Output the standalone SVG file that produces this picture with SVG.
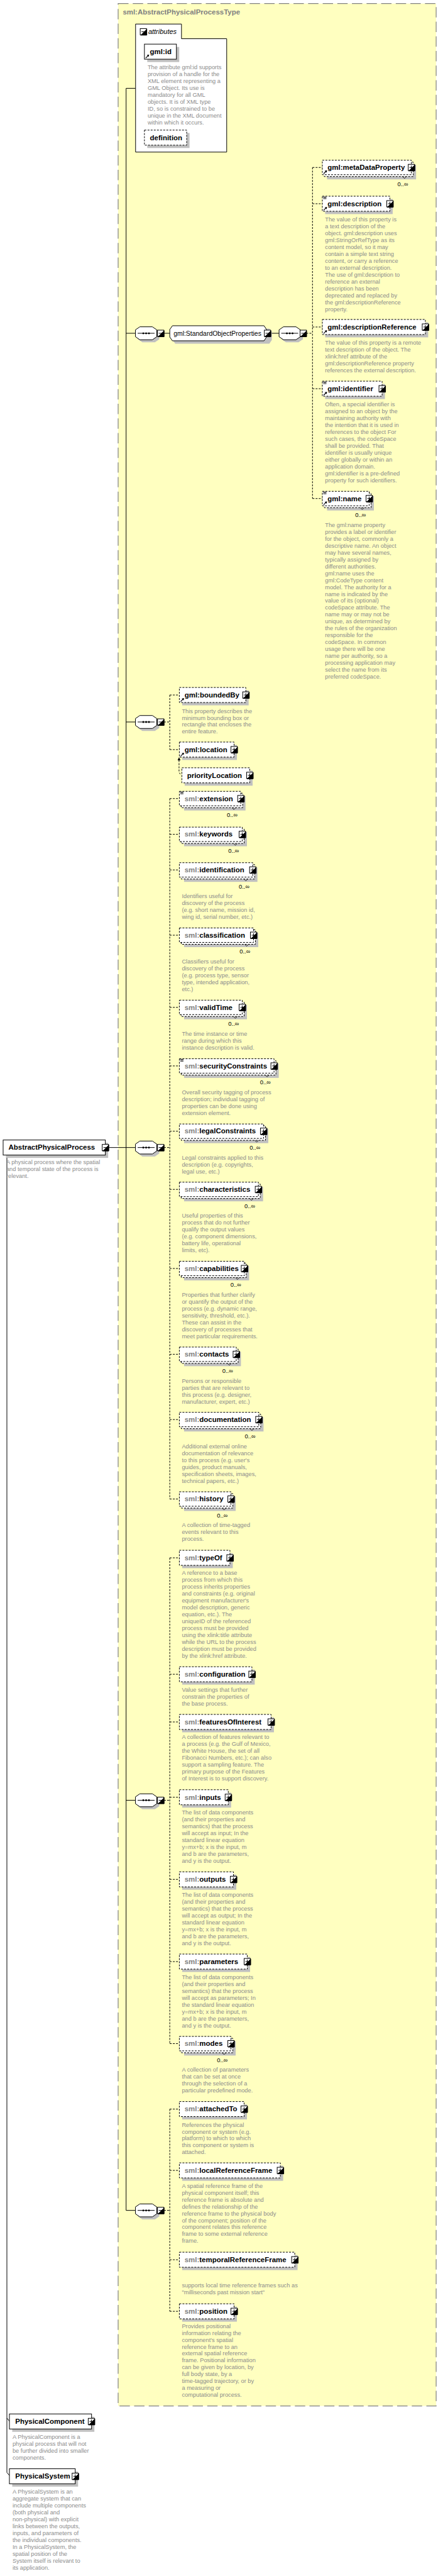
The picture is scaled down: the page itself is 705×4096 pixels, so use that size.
<svg xmlns="http://www.w3.org/2000/svg" width="705" height="4096" viewBox="0 0 705 4096">
<style>
.tb{fill:#FFFFC0;stroke:#808080;stroke-width:1.2;stroke-dasharray:16.5 6.8}
.sh{fill:#C0C0C0}
.bx{fill:#fff;stroke:#000;stroke-width:1}
.op{fill:#fff;stroke:#000;stroke-width:1;stroke-dasharray:3 2}
.nm{font-family:'Liberation Sans',Arial,sans-serif;font-size:11.5px;font-weight:bold;fill:#000}
.pf{fill:#808080}
.ds{font-family:'Liberation Sans',Arial,sans-serif;font-size:9.3px;fill:#8c8c8c}
.oc{font-family:'Liberation Sans',Arial,sans-serif;font-size:9.5px;fill:#000;text-anchor:end}
.ln{stroke:#000;stroke-width:1;fill:none}
.nt{stroke:#000;stroke-width:0.8;fill:none}
.dl{stroke:#000;stroke-width:1;fill:none;stroke-dasharray:3 2}
.tt{font-family:'Liberation Sans',Arial,sans-serif;font-size:11px;font-weight:bold;fill:#808080}
.gp{font-family:'Liberation Sans',Arial,sans-serif;font-size:11px;fill:#000}
.it{font-family:'Liberation Sans',Arial,sans-serif;font-size:11px;font-style:italic;fill:#000}
</style>
<defs>
<g id="plus"><rect x="-5" y="-5" width="10" height="10" fill="#fff" stroke="#000"/><path d="M-3,0H3M0,-3V3" stroke="#000"/><path d="M-4.5,5.5H5.5V-4.5" stroke="#000"/></g>
<g id="minus"><rect x="-5" y="-5" width="10" height="10" fill="#fff" stroke="#000"/><path d="M-3,0H3" stroke="#000"/><path d="M-4.5,5.5H5.5V-4.5" stroke="#000"/></g>
<g id="ref"><path d="M0,0L4,-4" stroke="#000" stroke-width="1.2"/><path d="M5.5,-5.5L1.8,-4.8L4.8,-1.8Z" fill="#000"/></g>
<g id="mix"><path d="M0,0.5H5M0,2H5M0,3.5H5" stroke="#000" stroke-width="0.8"/></g>
<g id="seq"><polygon points="4,-1.5 11,-6.3 31,-6.3 38,-1.5 38,9.5 31,14.3 11,14.3 4,9.5" fill="#C0C0C0"/><polygon points="0,-5.5 7,-10.3 27,-10.3 34,-5.5 34,5.5 27,10.3 7,10.3 0,5.5" fill="#fff" stroke="#000"/><path d="M3.5,0H30.5" stroke="#000"/><circle cx="12.5" cy="0" r="1.5"/><circle cx="17" cy="0" r="1.5"/><circle cx="21.5" cy="0" r="1.5"/></g>
</defs>
<rect x="0" y="0" width="705" height="4096" fill="#fff"/>
<g transform="scale(0.998)">

<g id="type-box">
<rect class="tb" x="188.4" y="5.7" width="507.1" height="3827.6"/>
<text class="tt" x="195.8" y="22.7" textLength="187" lengthAdjust="spacingAndGlyphs">sml:AbstractPhysicalProcessType</text>
</g>

<g id="connectors">
<path class="ln" d="M201.1,140.7V3521.7M201.1,140.7H216.2"/>
<path class="ln" d="M201.1,531H216M261.5,531H270.7M431.5,531H445"/>
<path class="dl" d="M488.5,531H498.3M498.3,266.8V794.3M498.3,266.8H514M498.3,324.6H514M498.3,521H514M498.3,619.3H514M498.3,794.3H514"/>
<path class="ln" d="M201.1,1150.3H216"/>
<path class="dl" d="M261.5,1150.3H270.7M270.7,1107.3V1194.3M270.7,1107.3H286M270.7,1194.3H286"/>
<path class="dl" d="M285.5,1211V1229Q285.5,1233.5 290,1233.5"/>
<path d="M285.5,1206.5L283.2,1211.5L287.8,1211.5Z" fill="#000"/>
<path class="ln" d="M173.5,1828.3H216"/>
<path class="dl" d="M261.5,1828.3H270.7M270.7,1272.3V2388.3M270.7,1272.3H286M270.7,1329.3H286M270.7,1386H286M270.7,1490H286M270.7,1605H286M270.7,1698.3H286M270.7,1802.3H286M270.7,1895H286M270.7,2021H286M270.7,2157.7H286M270.7,2261.7H286M270.7,2388.3H286"/>
<path class="ln" d="M201.1,2868.3H216"/>
<path class="dl" d="M261.5,2868.3H270.7M270.7,2482V3256M270.7,2482H286M270.7,2667.5H286M270.7,2743.5H286M270.7,2863.5H286M270.7,2994.3H286M270.7,3125.3H286M270.7,3256H286"/>
<path class="ln" d="M201.1,3521.7H216"/>
<path class="dl" d="M261.5,3521.7H270.7M270.7,3360.3V3682.5M270.7,3360.3H286M270.7,3458H286M270.7,3600.3H286M270.7,3682.5H286"/>
<path class="ln" d="M11,1840.3V3939.3M11,3852.7L15,3857.5M11,3939.3L15,3944"/>
</g>

<g id="seq1"><use href="#seq" x="216" y="531"/><use href="#minus" x="256.2" y="531"/></g>
<g id="seq1b"><use href="#seq" x="445" y="531"/><use href="#minus" x="483.5" y="531"/></g>
<g id="seq2"><use href="#seq" x="216" y="1150.3"/><use href="#minus" x="256.2" y="1150.3"/></g>
<g id="seq3"><use href="#seq" x="216" y="1828.3"/><use href="#minus" x="256.2" y="1828.3"/></g>
<g id="seq4"><use href="#seq" x="216" y="2868.3"/><use href="#minus" x="256.2" y="2868.3"/></g>
<g id="seq5"><use href="#seq" x="216" y="3521.7"/><use href="#minus" x="256.2" y="3521.7"/></g>

<g id="attributes">
<path d="M216.2,38.3H289.4V61.7H361.5V242.3H216.2Z" fill="#fff" stroke="#000"/>
<use href="#minus" x="228.6" y="50.5"/>
<text class="it" x="236.4" y="54">attributes</text>
</g>
<g id="gml-id">
<rect class="sh" x="234.8" y="74.8" width="51" height="24"/>
<rect class="bx" x="230.3" y="70.3" width="51" height="24"/>
<text class="nm" x="239" y="86.2">gml:id</text>
<use href="#ref" x="232.3" y="92.5"/>
<text class="ds" x="235.4" y="110"><tspan x="235.4">The attribute gml:id supports</tspan><tspan x="235.4" dy="11">provision of a handle for the</tspan><tspan x="235.4" dy="11">XML element representing a</tspan><tspan x="235.4" dy="11">GML Object. Its use is</tspan><tspan x="235.4" dy="11">mandatory for all GML</tspan><tspan x="235.4" dy="11">objects. It is of XML type</tspan><tspan x="235.4" dy="11">ID, so is constrained to be</tspan><tspan x="235.4" dy="11">unique in the XML document</tspan><tspan x="235.4" dy="11">within which it occurs.</tspan></text>
</g>
<g id="definition">
<rect class="sh" x="234.8" y="211.8" width="67.4" height="24"/>
<rect class="op" x="230.3" y="207.3" width="67.4" height="24"/>
<text class="nm" x="239" y="223.1">definition</text>
</g>

<g id="StandardObjectProperties">
<polygon points="275.2,529.5 279.5,523.5 429.5,523.5 433.5,529.5 433.5,541.5 429.5,547.5 279.5,547.5 275.2,541.5" fill="#C0C0C0"/>
<polygon points="270.7,525 275,519 421,519 425,525 425,537 421,543 275,543 270.7,537" fill="#fff" stroke="#000"/>
<text class="gp" x="276.7" y="534.8" textLength="140" lengthAdjust="spacingAndGlyphs">gml:StandardObjectProperties</text>
<use href="#minus" x="426.5" y="531"/>
</g>

<g id="gml-metaDataProperty">
<rect class="sh" x="521.5" y="262.8" width="142" height="23"/>
<rect class="op" x="517" y="258.3" width="142" height="23"/>
<rect class="op" x="514" y="255.3" width="142" height="23"/>
<path class="nt" d="M642,281.3l3,3l3,-3"/>
<text class="nm" x="522.3" y="270.6">gml:metaDataProperty</text>
<use href="#ref" x="516" y="276.8"/>
<use href="#plus" x="656" y="266.8"/>
<text class="oc" x="651" y="296.3">0..∞</text>
</g>
<g id="gml-description">
<rect class="sh" x="518.5" y="317.1" width="107.7" height="24"/>
<rect class="op" x="514" y="312.6" width="107.7" height="24"/>
<use href="#mix" x="515.5" y="313.1"/>
<text class="nm" x="522.3" y="328.4">gml:description</text>
<use href="#ref" x="516" y="335.1"/>
<use href="#plus" x="621.7" y="324.6"/>
<text class="ds" x="518.3" y="352.9"><tspan x="518.3">The value of this property is</tspan><tspan x="518.3" dy="11">a text description of the</tspan><tspan x="518.3" dy="11">object. gml:description uses</tspan><tspan x="518.3" dy="11">gml:StringOrRefType as its</tspan><tspan x="518.3" dy="11">content model, so it may</tspan><tspan x="518.3" dy="11">contain a simple text string</tspan><tspan x="518.3" dy="11">content, or carry a reference</tspan><tspan x="518.3" dy="11">to an external description.</tspan><tspan x="518.3" dy="11">The use of gml:description to</tspan><tspan x="518.3" dy="11">reference an external</tspan><tspan x="518.3" dy="11">description has been</tspan><tspan x="518.3" dy="11">deprecated and replaced by</tspan><tspan x="518.3" dy="11">the gml:descriptionReference</tspan><tspan x="518.3" dy="11">property.</tspan></text>
</g>
<g id="gml-descriptionReference">
<rect class="sh" x="518.5" y="513.5" width="164.3" height="24"/>
<rect class="op" x="514" y="509" width="164.3" height="24"/>
<text class="nm" x="522.3" y="524.8">gml:descriptionReference</text>
<use href="#ref" x="516" y="531.5"/>
<use href="#plus" x="678.3" y="521"/>
<text class="ds" x="518.3" y="549.3"><tspan x="518.3">The value of this property is a remote</tspan><tspan x="518.3" dy="11">text description of the object. The</tspan><tspan x="518.3" dy="11">xlink:href attribute of the</tspan><tspan x="518.3" dy="11">gml:descriptionReference property</tspan><tspan x="518.3" dy="11">references the external description.</tspan></text>
</g>
<g id="gml-identifier">
<rect class="sh" x="518.5" y="611.8" width="95.3" height="24"/>
<rect class="op" x="514" y="607.3" width="95.3" height="24"/>
<use href="#mix" x="515.5" y="607.8"/>
<text class="nm" x="522.3" y="623.1">gml:identifier</text>
<use href="#ref" x="516" y="629.8"/>
<use href="#plus" x="609.3" y="619.3"/>
<text class="ds" x="518.3" y="647.6"><tspan x="518.3">Often, a special identifier is</tspan><tspan x="518.3" dy="11">assigned to an object by the</tspan><tspan x="518.3" dy="11">maintaining authority with</tspan><tspan x="518.3" dy="11">the intention that it is used in</tspan><tspan x="518.3" dy="11">references to the object For</tspan><tspan x="518.3" dy="11">such cases, the codeSpace</tspan><tspan x="518.3" dy="11">shall be provided. That</tspan><tspan x="518.3" dy="11">identifier is usually unique</tspan><tspan x="518.3" dy="11">either globally or within an</tspan><tspan x="518.3" dy="11">application domain.</tspan><tspan x="518.3" dy="11">gml:identifier is a pre-defined</tspan><tspan x="518.3" dy="11">property for such identifiers.</tspan></text>
</g>
<g id="gml-name">
<rect class="sh" x="521.5" y="790.3" width="74.7" height="23"/>
<rect class="op" x="517" y="785.8" width="74.7" height="23"/>
<rect class="op" x="514" y="782.8" width="74.7" height="23"/>
<path class="nt" d="M574.7,808.8l3,3l3,-3"/>
<use href="#mix" x="515.5" y="783.3"/>
<text class="nm" x="522.3" y="798.1">gml:name</text>
<use href="#ref" x="516" y="804.3"/>
<use href="#plus" x="588.7" y="794.3"/>
<text class="oc" x="583.7" y="823.8">0..∞</text>
<text class="ds" x="518.3" y="839.4"><tspan x="518.3">The gml:name property</tspan><tspan x="518.3" dy="11">provides a label or identifier</tspan><tspan x="518.3" dy="11">for the object, commonly a</tspan><tspan x="518.3" dy="11">descriptive name. An object</tspan><tspan x="518.3" dy="11">may have several names,</tspan><tspan x="518.3" dy="11">typically assigned by</tspan><tspan x="518.3" dy="11">different authorities.</tspan><tspan x="518.3" dy="11">gml:name uses the</tspan><tspan x="518.3" dy="11">gml:CodeType content</tspan><tspan x="518.3" dy="11">model.  The authority for a</tspan><tspan x="518.3" dy="11">name is indicated by the</tspan><tspan x="518.3" dy="11">value of its (optional)</tspan><tspan x="518.3" dy="11">codeSpace attribute.  The</tspan><tspan x="518.3" dy="11">name may or may not be</tspan><tspan x="518.3" dy="11">unique, as determined by</tspan><tspan x="518.3" dy="11">the rules of the organization</tspan><tspan x="518.3" dy="11">responsible for the</tspan><tspan x="518.3" dy="11">codeSpace.  In common</tspan><tspan x="518.3" dy="11">usage there will be one</tspan><tspan x="518.3" dy="11">name per authority, so a</tspan><tspan x="518.3" dy="11">processing application may</tspan><tspan x="518.3" dy="11">select the name from its</tspan><tspan x="518.3" dy="11">preferred codeSpace.</tspan></text>
</g>

<g id="gml-boundedBy">
<rect class="sh" x="290.5" y="1099.8" width="106" height="24"/>
<rect class="op" x="286" y="1095.3" width="106" height="24"/>
<text class="nm" x="294.3" y="1111.1">gml:boundedBy</text>
<use href="#ref" x="288" y="1117.8"/>
<use href="#plus" x="392" y="1107.3"/>
<text class="ds" x="290" y="1135.8"><tspan x="290">This property describes the</tspan><tspan x="290" dy="11">minimum bounding box or</tspan><tspan x="290" dy="11">rectangle that encloses the</tspan><tspan x="290" dy="11">entire feature.</tspan></text>
</g>
<g id="gml-location">
<rect class="sh" x="290.5" y="1186.8" width="87.3" height="24"/>
<rect class="op" x="286" y="1182.3" width="87.3" height="24"/>
<text class="nm" x="294.3" y="1198.1">gml:location</text>
<use href="#ref" x="288" y="1204.8"/>
<use href="#plus" x="373.3" y="1194.3"/>
</g>
<g id="priorityLocation">
<rect class="sh" x="294.5" y="1227.8" width="108.3" height="24"/>
<rect class="op" x="290" y="1223.3" width="108.3" height="24"/>
<text class="nm" x="298.3" y="1239.1">priorityLocation</text>
<use href="#plus" x="398.3" y="1235.3"/>
</g>

<g id="sml-extension">
<rect class="sh" x="293.5" y="1268.3" width="98" height="23"/>
<rect class="op" x="289" y="1263.8" width="98" height="23"/>
<rect class="op" x="286" y="1260.8" width="98" height="23"/>
<path class="nt" d="M370,1286.8l3,3l3,-3"/>
<use href="#mix" x="287.5" y="1261.3"/>
<text class="nm" x="294.3" y="1276.1"><tspan class="pf">sml:</tspan>extension</text>
<use href="#plus" x="384" y="1272.3"/>
<text class="oc" x="379" y="1301.8">0..∞</text>
</g>
<g id="sml-keywords">
<rect class="sh" x="293.5" y="1325.3" width="100.3" height="23"/>
<rect class="op" x="289" y="1320.8" width="100.3" height="23"/>
<rect class="op" x="286" y="1317.8" width="100.3" height="23"/>
<path class="nt" d="M372.3,1343.8l3,3l3,-3"/>
<text class="nm" x="294.3" y="1333.1"><tspan class="pf">sml:</tspan>keywords</text>
<use href="#plus" x="386.3" y="1329.3"/>
<text class="oc" x="381.3" y="1358.8">0..∞</text>
</g>
<g id="sml-identification">
<rect class="sh" x="293.5" y="1382" width="117" height="23"/>
<rect class="op" x="289" y="1377.5" width="117" height="23"/>
<rect class="op" x="286" y="1374.5" width="117" height="23"/>
<path class="nt" d="M389,1400.5l3,3l3,-3"/>
<text class="nm" x="294.3" y="1389.8"><tspan class="pf">sml:</tspan>identification</text>
<use href="#plus" x="403" y="1386"/>
<text class="oc" x="398" y="1415.5">0..∞</text>
<text class="ds" x="290" y="1430.6"><tspan x="290">Identifiers useful for</tspan><tspan x="290" dy="11">discovery of the process</tspan><tspan x="290" dy="11">(e.g. short name, mission id,</tspan><tspan x="290" dy="11">wing id, serial number, etc.)</tspan></text>
</g>
<g id="sml-classification">
<rect class="sh" x="293.5" y="1486" width="118.3" height="23"/>
<rect class="op" x="289" y="1481.5" width="118.3" height="23"/>
<rect class="op" x="286" y="1478.5" width="118.3" height="23"/>
<path class="nt" d="M390.3,1504.5l3,3l3,-3"/>
<text class="nm" x="294.3" y="1493.8"><tspan class="pf">sml:</tspan>classification</text>
<use href="#plus" x="404.3" y="1490"/>
<text class="oc" x="399.3" y="1519.5">0..∞</text>
<text class="ds" x="290" y="1535"><tspan x="290">Classifiers useful for</tspan><tspan x="290" dy="11">discovery of the process</tspan><tspan x="290" dy="11">(e.g. process type, sensor</tspan><tspan x="290" dy="11">type, intended application,</tspan><tspan x="290" dy="11">etc.)</tspan></text>
</g>
<g id="sml-validTime">
<rect class="sh" x="293.5" y="1601" width="100.3" height="23"/>
<rect class="op" x="289" y="1596.5" width="100.3" height="23"/>
<rect class="op" x="286" y="1593.5" width="100.3" height="23"/>
<path class="nt" d="M372.3,1619.5l3,3l3,-3"/>
<text class="nm" x="294.3" y="1608.8"><tspan class="pf">sml:</tspan>validTime</text>
<use href="#plus" x="386.3" y="1605"/>
<text class="oc" x="381.3" y="1634.5">0..∞</text>
<text class="ds" x="290" y="1650"><tspan x="290">The time instance or time</tspan><tspan x="290" dy="11">range during which this</tspan><tspan x="290" dy="11">instance description is valid.</tspan></text>
</g>
<g id="sml-securityConstraints">
<rect class="sh" x="293.5" y="1694.3" width="151" height="23"/>
<rect class="op" x="289" y="1689.8" width="151" height="23"/>
<rect class="op" x="286" y="1686.8" width="151" height="23"/>
<path class="nt" d="M423,1712.8l3,3l3,-3"/>
<use href="#mix" x="287.5" y="1687.3"/>
<text class="nm" x="294.3" y="1702.1"><tspan class="pf">sml:</tspan>securityConstraints</text>
<use href="#plus" x="437" y="1698.3"/>
<text class="oc" x="432" y="1727.8">0..∞</text>
<text class="ds" x="290" y="1743.3"><tspan x="290">Overall security tagging of process</tspan><tspan x="290" dy="11">description; individual tagging of</tspan><tspan x="290" dy="11">properties can be done using</tspan><tspan x="290" dy="11">extension element.</tspan></text>
</g>
<g id="sml-legalConstraints">
<rect class="sh" x="293.5" y="1798.3" width="134.3" height="23"/>
<rect class="op" x="289" y="1793.8" width="134.3" height="23"/>
<rect class="op" x="286" y="1790.8" width="134.3" height="23"/>
<path class="nt" d="M406.3,1816.8l3,3l3,-3"/>
<text class="nm" x="294.3" y="1806.1"><tspan class="pf">sml:</tspan>legalConstraints</text>
<use href="#plus" x="420.3" y="1802.3"/>
<text class="oc" x="415.3" y="1831.8">0..∞</text>
<text class="ds" x="290" y="1847.3"><tspan x="290">Legal constraints applied to this</tspan><tspan x="290" dy="11">description (e.g. copyrights,</tspan><tspan x="290" dy="11">legal use, etc.)</tspan></text>
</g>
<g id="sml-characteristics">
<rect class="sh" x="293.5" y="1891" width="126" height="23"/>
<rect class="op" x="289" y="1886.5" width="126" height="23"/>
<rect class="op" x="286" y="1883.5" width="126" height="23"/>
<path class="nt" d="M398,1909.5l3,3l3,-3"/>
<text class="nm" x="294.3" y="1898.8"><tspan class="pf">sml:</tspan>characteristics</text>
<use href="#plus" x="412" y="1895"/>
<text class="oc" x="407" y="1924.5">0..∞</text>
<text class="ds" x="290" y="1940"><tspan x="290">Useful properties of this</tspan><tspan x="290" dy="11">process that do not further</tspan><tspan x="290" dy="11">qualify the output values</tspan><tspan x="290" dy="11">(e.g. component dimensions,</tspan><tspan x="290" dy="11">battery life, operational</tspan><tspan x="290" dy="11">limits, etc).</tspan></text>
</g>
<g id="sml-capabilities">
<rect class="sh" x="293.5" y="2017" width="103.7" height="23"/>
<rect class="op" x="289" y="2012.5" width="103.7" height="23"/>
<rect class="op" x="286" y="2009.5" width="103.7" height="23"/>
<path class="nt" d="M375.7,2035.5l3,3l3,-3"/>
<text class="nm" x="294.3" y="2024.8"><tspan class="pf">sml:</tspan>capabilities</text>
<use href="#plus" x="389.7" y="2021"/>
<text class="oc" x="384.7" y="2050.5">0..∞</text>
<text class="ds" x="290" y="2066"><tspan x="290">Properties that further clarify</tspan><tspan x="290" dy="11">or quantify the output of the</tspan><tspan x="290" dy="11">process (e.g. dynamic range,</tspan><tspan x="290" dy="11">sensitivity, threshold, etc.).</tspan><tspan x="290" dy="11">These can assist in the</tspan><tspan x="290" dy="11">discovery of processes that</tspan><tspan x="290" dy="11">meet particular requirements.</tspan></text>
</g>
<g id="sml-contacts">
<rect class="sh" x="293.5" y="2153.7" width="90.7" height="23"/>
<rect class="op" x="289" y="2149.2" width="90.7" height="23"/>
<rect class="op" x="286" y="2146.2" width="90.7" height="23"/>
<path class="nt" d="M362.7,2172.2l3,3l3,-3"/>
<text class="nm" x="294.3" y="2161.5"><tspan class="pf">sml:</tspan>contacts</text>
<use href="#plus" x="376.7" y="2157.7"/>
<text class="oc" x="371.7" y="2187.2">0..∞</text>
<text class="ds" x="290" y="2203.3"><tspan x="290">Persons or responsible</tspan><tspan x="290" dy="11">parties that are relevant to</tspan><tspan x="290" dy="11">this process (e.g. designer,</tspan><tspan x="290" dy="11">manufacturer, expert, etc.)</tspan></text>
</g>
<g id="sml-documentation">
<rect class="sh" x="293.5" y="2257.7" width="126.7" height="23"/>
<rect class="op" x="289" y="2253.2" width="126.7" height="23"/>
<rect class="op" x="286" y="2250.2" width="126.7" height="23"/>
<path class="nt" d="M398.7,2276.2l3,3l3,-3"/>
<text class="nm" x="294.3" y="2265.5"><tspan class="pf">sml:</tspan>documentation</text>
<use href="#plus" x="412.7" y="2261.7"/>
<text class="oc" x="407.7" y="2291.2">0..∞</text>
<text class="ds" x="290" y="2307.3"><tspan x="290">Additional external online</tspan><tspan x="290" dy="11">documentation of relevance</tspan><tspan x="290" dy="11">to this process (e.g. user's</tspan><tspan x="290" dy="11">guides, product manuals,</tspan><tspan x="290" dy="11">specification sheets, images,</tspan><tspan x="290" dy="11">technical papers, etc.)</tspan></text>
</g>
<g id="sml-history">
<rect class="sh" x="293.5" y="2384.3" width="82.3" height="23"/>
<rect class="op" x="289" y="2379.8" width="82.3" height="23"/>
<rect class="op" x="286" y="2376.8" width="82.3" height="23"/>
<path class="nt" d="M354.3,2402.8l3,3l3,-3"/>
<text class="nm" x="294.3" y="2392.1"><tspan class="pf">sml:</tspan>history</text>
<use href="#plus" x="368.3" y="2388.3"/>
<text class="oc" x="363.3" y="2417.8">0..∞</text>
<text class="ds" x="290" y="2432.6"><tspan x="290">A collection of time-tagged</tspan><tspan x="290" dy="11">events relevant to this</tspan><tspan x="290" dy="11">process.</tspan></text>
</g>

<g id="sml-typeOf">
<rect class="sh" x="290.5" y="2474.5" width="80.7" height="24"/>
<rect class="op" x="286" y="2470" width="80.7" height="24"/>
<text class="nm" x="294.3" y="2485.8"><tspan class="pf">sml:</tspan>typeOf</text>
<use href="#plus" x="366.7" y="2482"/>
<text class="ds" x="290" y="2509"><tspan x="290">A reference to a base</tspan><tspan x="290" dy="11">process from which this</tspan><tspan x="290" dy="11">process inherits properties</tspan><tspan x="290" dy="11">and constraints (e.g. original</tspan><tspan x="290" dy="11">equipment manufacturer's</tspan><tspan x="290" dy="11">model description, generic</tspan><tspan x="290" dy="11">equation, etc.). The</tspan><tspan x="290" dy="11">uniqueID of the referenced</tspan><tspan x="290" dy="11">process must be provided</tspan><tspan x="290" dy="11">using the xlink:title attribute</tspan><tspan x="290" dy="11">while the URL to the process</tspan><tspan x="290" dy="11">description must be provided</tspan><tspan x="290" dy="11">by the xlink:href attribute.</tspan></text>
</g>
<g id="sml-configuration">
<rect class="sh" x="290.5" y="2660" width="115.7" height="24"/>
<rect class="op" x="286" y="2655.5" width="115.7" height="24"/>
<text class="nm" x="294.3" y="2671.3"><tspan class="pf">sml:</tspan>configuration</text>
<use href="#plus" x="401.7" y="2667.5"/>
<text class="ds" x="290" y="2695"><tspan x="290">Value settings that further</tspan><tspan x="290" dy="11">constrain the properties of</tspan><tspan x="290" dy="11">the base process.</tspan></text>
</g>
<g id="sml-featuresOfInterest">
<rect class="sh" x="290.5" y="2736" width="146.3" height="24"/>
<rect class="op" x="286" y="2731.5" width="146.3" height="24"/>
<text class="nm" x="294.3" y="2747.3"><tspan class="pf">sml:</tspan>featuresOfInterest</text>
<use href="#plus" x="432.3" y="2743.5"/>
<text class="ds" x="290" y="2771"><tspan x="290">A collection of features relevant to</tspan><tspan x="290" dy="11">a process (e.g. the Gulf of Mexico,</tspan><tspan x="290" dy="11">the White House, the set of all</tspan><tspan x="290" dy="11">Fibonacci Numbers, etc.); can also</tspan><tspan x="290" dy="11">support a sampling feature. The</tspan><tspan x="290" dy="11">primary purpose of the Features</tspan><tspan x="290" dy="11">of Interest is to support discovery.</tspan></text>
</g>
<g id="sml-inputs">
<rect class="sh" x="290.5" y="2856" width="78" height="24"/>
<rect class="op" x="286" y="2851.5" width="78" height="24"/>
<text class="nm" x="294.3" y="2867.3"><tspan class="pf">sml:</tspan>inputs</text>
<use href="#plus" x="364" y="2863.5"/>
<text class="ds" x="290" y="2890.6"><tspan x="290">The list of data components</tspan><tspan x="290" dy="11">(and their properties and</tspan><tspan x="290" dy="11">semantics) that the process</tspan><tspan x="290" dy="11">will accept as input; In the</tspan><tspan x="290" dy="11">standard linear equation</tspan><tspan x="290" dy="11">y=mx+b; x is the input, m</tspan><tspan x="290" dy="11">and b are the parameters,</tspan><tspan x="290" dy="11">and y is the output.</tspan></text>
</g>
<g id="sml-outputs">
<rect class="sh" x="290.5" y="2986.8" width="86.3" height="24"/>
<rect class="op" x="286" y="2982.3" width="86.3" height="24"/>
<text class="nm" x="294.3" y="2998.1"><tspan class="pf">sml:</tspan>outputs</text>
<use href="#plus" x="372.3" y="2994.3"/>
<text class="ds" x="290" y="3022"><tspan x="290">The list of data components</tspan><tspan x="290" dy="11">(and their properties and</tspan><tspan x="290" dy="11">semantics) that the process</tspan><tspan x="290" dy="11">will accept as output; In the</tspan><tspan x="290" dy="11">standard linear equation</tspan><tspan x="290" dy="11">y=mx+b; x is the input, m</tspan><tspan x="290" dy="11">and b are the parameters,</tspan><tspan x="290" dy="11">and y is the output.</tspan></text>
</g>
<g id="sml-parameters">
<rect class="sh" x="290.5" y="3117.8" width="108.3" height="24"/>
<rect class="op" x="286" y="3113.3" width="108.3" height="24"/>
<text class="nm" x="294.3" y="3129.1"><tspan class="pf">sml:</tspan>parameters</text>
<use href="#plus" x="394.3" y="3125.3"/>
<text class="ds" x="290" y="3153"><tspan x="290">The list of data components</tspan><tspan x="290" dy="11">(and their properties and</tspan><tspan x="290" dy="11">semantics) that the process</tspan><tspan x="290" dy="11">will accept as parameters; In</tspan><tspan x="290" dy="11">the standard linear equation</tspan><tspan x="290" dy="11">y=mx+b; x is the input, m</tspan><tspan x="290" dy="11">and b are the parameters,</tspan><tspan x="290" dy="11">and y is the output.</tspan></text>
</g>
<g id="sml-modes">
<rect class="sh" x="293.5" y="3252" width="82.3" height="23"/>
<rect class="op" x="289" y="3247.5" width="82.3" height="23"/>
<rect class="op" x="286" y="3244.5" width="82.3" height="23"/>
<path class="nt" d="M354.3,3270.5l3,3l3,-3"/>
<text class="nm" x="294.3" y="3259.8"><tspan class="pf">sml:</tspan>modes</text>
<use href="#plus" x="368.3" y="3256"/>
<text class="oc" x="363.3" y="3285.5">0..∞</text>
<text class="ds" x="290" y="3301"><tspan x="290">A collection of parameters</tspan><tspan x="290" dy="11">that can be set at once</tspan><tspan x="290" dy="11">through the selection of a</tspan><tspan x="290" dy="11">particular predefined mode.</tspan></text>
</g>
<g id="sml-attachedTo">
<rect class="sh" x="290.5" y="3352.8" width="103.3" height="24"/>
<rect class="op" x="286" y="3348.3" width="103.3" height="24"/>
<text class="nm" x="294.3" y="3364.1"><tspan class="pf">sml:</tspan>attachedTo</text>
<use href="#plus" x="389.3" y="3360.3"/>
<text class="ds" x="290" y="3388.3"><tspan x="290">References the physical</tspan><tspan x="290" dy="11">component or system (e.g.</tspan><tspan x="290" dy="11">platform) to which to which</tspan><tspan x="290" dy="11">this component or system is</tspan><tspan x="290" dy="11">attached.</tspan></text>
</g>
<g id="sml-localReferenceFrame">
<rect class="sh" x="290.5" y="3450.5" width="161" height="24"/>
<rect class="op" x="286" y="3446" width="161" height="24"/>
<text class="nm" x="294.3" y="3461.8"><tspan class="pf">sml:</tspan>localReferenceFrame</text>
<use href="#plus" x="447" y="3458"/>
<text class="ds" x="290" y="3485.6"><tspan x="290">A spatial reference frame of the</tspan><tspan x="290" dy="11">physical component itself; this</tspan><tspan x="290" dy="11">reference frame is absolute and</tspan><tspan x="290" dy="11">defines the relationship of the</tspan><tspan x="290" dy="11">reference frame to the physical body</tspan><tspan x="290" dy="11">of the component; position of the</tspan><tspan x="290" dy="11">component relates this reference</tspan><tspan x="290" dy="11">frame to some external reference</tspan><tspan x="290" dy="11">frame.</tspan></text>
</g>
<g id="sml-temporalReferenceFrame">
<rect class="sh" x="290.5" y="3592.8" width="184" height="24"/>
<rect class="op" x="286" y="3588.3" width="184" height="24"/>
<text class="nm" x="294.3" y="3604.1"><tspan class="pf">sml:</tspan>temporalReferenceFrame</text>
<use href="#plus" x="470" y="3600.3"/>
<text class="ds" x="290" y="3644"><tspan x="290">supports local time reference frames such as</tspan><tspan x="290" dy="11">"milliseconds past mission start"</tspan></text>
</g>
<g id="sml-position">
<rect class="sh" x="290.5" y="3675" width="87.3" height="24"/>
<rect class="op" x="286" y="3670.5" width="87.3" height="24"/>
<text class="nm" x="294.3" y="3686.3"><tspan class="pf">sml:</tspan>position</text>
<use href="#plus" x="373.3" y="3682.5"/>
<text class="ds" x="290" y="3709"><tspan x="290">Provides positional</tspan><tspan x="290" dy="11">information relating the</tspan><tspan x="290" dy="11">component's spatial</tspan><tspan x="290" dy="11">reference frame to an</tspan><tspan x="290" dy="11">external spatial reference</tspan><tspan x="290" dy="11">frame. Positional information</tspan><tspan x="290" dy="11">can be given by location, by</tspan><tspan x="290" dy="11">full body state, by a</tspan><tspan x="290" dy="11">time-tagged trajectory, or by</tspan><tspan x="290" dy="11">a measuring or</tspan><tspan x="290" dy="11">computational process.</tspan></text>
</g>

<g id="AbstractPhysicalProcess">
<rect class="sh" x="9.5" y="1820.8" width="163" height="24"/>
<rect class="bx" x="5" y="1816.3" width="163" height="24"/>
<text class="nm" x="13.5" y="1832.1">AbstractPhysicalProcess</text>
<use href="#minus" x="168" y="1828.3"/>
<text class="ds" x="10" y="1855"><tspan x="10">A physical process where the spatial</tspan><tspan x="10" dy="11">and temporal state of the process is</tspan><tspan x="10" dy="11">relevant.</tspan></text>
</g>
<g id="PhysicalComponent">
<rect class="sh" x="19.5" y="3850.5" width="131" height="24"/>
<rect class="bx" x="15" y="3846" width="131" height="24"/>
<text class="nm" x="24.3" y="3861.8">PhysicalComponent</text>
<use href="#plus" x="145.7" y="3858"/>
<text class="ds" x="20" y="3886"><tspan x="20">A PhysicalComponent is a</tspan><tspan x="20" dy="11">physical process that will not</tspan><tspan x="20" dy="11">be further divided into smaller</tspan><tspan x="20" dy="11">components.</tspan></text>
</g>
<g id="PhysicalSystem">
<rect class="sh" x="19.5" y="3937.8" width="105" height="24"/>
<rect class="bx" x="15" y="3933.3" width="105" height="24"/>
<text class="nm" x="24.3" y="3949.1">PhysicalSystem</text>
<use href="#plus" x="120" y="3945.3"/>
<text class="ds" x="20" y="3973.3"><tspan x="20">A PhysicalSystem is an</tspan><tspan x="20" dy="11">aggregate system that can</tspan><tspan x="20" dy="11">include multiple components</tspan><tspan x="20" dy="11">(both physical and</tspan><tspan x="20" dy="11">non-physical) with explicit</tspan><tspan x="20" dy="11">links between the outputs,</tspan><tspan x="20" dy="11">inputs, and parameters of</tspan><tspan x="20" dy="11">the individual components.</tspan><tspan x="20" dy="11">In a PhysicalSystem, the</tspan><tspan x="20" dy="11">spatial position of the</tspan><tspan x="20" dy="11">System itself is relevant to</tspan><tspan x="20" dy="11">its application.</tspan></text>
</g>
</g>
</svg>
